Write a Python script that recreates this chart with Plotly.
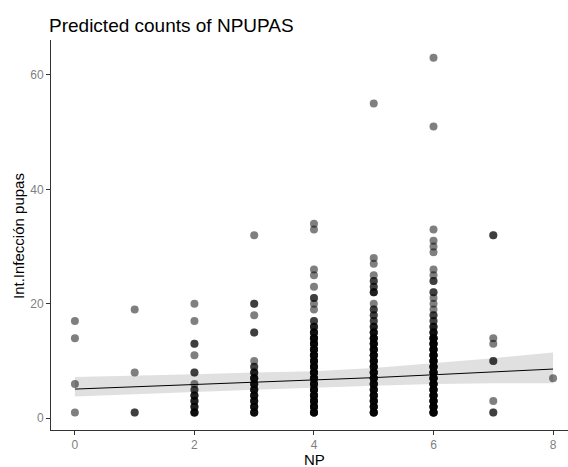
import plotly.graph_objects as go

# Observed data: for each NP level, (value, count) of "Int.Infección pupas"
np_levels = [0, 1, 2, 3, 4, 5, 6, 7, 8]
pupas_np0 = [(1, 1), (6, 1), (14, 1), (17, 1)]
pupas_np1 = [(1, 2), (8, 1), (19, 1)]
pupas_np2 = [(1, 4), (2, 3), (3, 3), (4, 3), (5, 2), (6, 1), (8, 2), (11, 1), (13, 2), (17, 1), (20, 1)]
pupas_np3 = [(1, 4), (2, 4), (3, 4), (4, 4), (5, 4), (6, 4), (7, 4), (8, 3), (9, 2), (10, 1),
             (15, 2), (18, 1), (20, 2), (32, 1)]
pupas_np4 = [(1, 5), (2, 5), (3, 5), (4, 5), (5, 5), (6, 5), (7, 5), (8, 5), (9, 5), (10, 5),
             (11, 5), (12, 5), (13, 5), (14, 5), (15, 4), (16, 3), (17, 2), (19, 1), (20, 1),
             (21, 2), (23, 1), (25, 1), (26, 1), (33, 1), (34, 1)]
pupas_np5 = [(1, 5), (2, 5), (3, 5), (4, 5), (5, 5), (6, 5), (7, 5), (8, 5), (9, 5), (10, 5),
             (11, 5), (12, 5), (13, 5), (14, 5), (15, 4), (16, 3), (17, 2), (18, 2), (19, 2),
             (20, 1), (22, 3), (23, 2), (24, 2), (25, 1), (27, 1), (28, 1), (55, 1)]
pupas_np6 = [(1, 6), (2, 6), (3, 6), (4, 6), (5, 6), (6, 6), (7, 6), (8, 6), (9, 6), (10, 6),
             (11, 6), (12, 6), (13, 6), (14, 6), (15, 4), (16, 3), (17, 2), (18, 2), (19, 1),
             (20, 1), (21, 1), (22, 2), (24, 2), (25, 1), (26, 1), (29, 1), (30, 1), (31, 1),
             (33, 1), (51, 1), (63, 1)]
pupas_np7 = [(1, 2), (3, 1), (10, 2), (13, 1), (14, 1), (32, 2)]
pupas_np8 = [(7, 1)]

# Predicted counts (fit) and 95% CI
fit_x = [0, 1, 2, 3, 4, 5, 6, 7, 8]
fit_y = [5.1, 5.5, 5.8, 6.2, 6.6, 7.1, 7.6, 8.1, 8.6]
fit_lo = [3.8, 4.2, 4.6, 5.0, 5.4, 5.7, 6.0, 6.1, 6.1]
fit_hi = [7.2, 7.4, 7.7, 8.0, 8.2, 8.8, 9.6, 10.5, 11.5]

x_ticks = [0, 2, 4, 6, 8]
y_ticks = [0, 20, 40, 60]

all_cols = [pupas_np0, pupas_np1, pupas_np2, pupas_np3, pupas_np4,
            pupas_np5, pupas_np6, pupas_np7, pupas_np8]
px, py = [], []
for lvl, col in zip(np_levels, all_cols):
    for val, cnt in col:
        for _ in range(cnt):
            px.append(lvl)
            py.append(val)

fig = go.Figure()
fig.add_trace(go.Scatter(x=fit_x + fit_x[::-1], y=fit_hi + fit_lo[::-1], fill="toself",
                         fillcolor="rgba(153,153,153,0.3)", line=dict(width=0),
                         mode="lines", hoverinfo="skip", showlegend=False))
fig.add_trace(go.Scatter(x=fit_x, y=fit_y, mode="lines",
                         line=dict(color="black", width=1), showlegend=False))
fig.add_trace(go.Scatter(x=px, y=py, mode="markers",
                         marker=dict(color="black", opacity=0.5, size=8, line=dict(width=0)),
                         showlegend=False))

axis_common = dict(showgrid=False, zeroline=False, showline=True, linecolor="#333333",
                   linewidth=1, ticks="outside", ticklen=4, tickcolor="#333333",
                   automargin=False,
                   tickfont=dict(family="Liberation Sans, Arial", size=12, color="#7f7f7f"))

L, T, B = 51, 40, 37
PW, PH = 568 - L, 467 - T - B

fig.update_layout(
    width=568, height=467,
    margin=dict(l=L, r=0, t=T, b=B),
    plot_bgcolor="white", paper_bgcolor="white",
    font=dict(family="Liberation Sans, Arial"),
    title=dict(text="Predicted counts of NPUPAS", x=49/568, xanchor="left", y=1 - 25/467,
               yanchor="middle", font=dict(size=19, color="black")),
    xaxis=dict(range=[-0.4, 8.25], tickvals=x_ticks, **axis_common),
    yaxis=dict(range=[-2.05, 66.1], tickvals=y_ticks, **axis_common),
    annotations=[
        dict(text="NP", xref="paper", yref="paper", x=(314 - L) / PW, y=-(459 - 430) / PH,
             xanchor="center", yanchor="middle", showarrow=False,
             font=dict(size=15, color="black")),
        dict(text="Int.Infección pupas", xref="paper", yref="paper", x=(18 - L) / PW,
             y=(430 - 236) / PH, xanchor="center", yanchor="middle", textangle=-90,
             showarrow=False, font=dict(size=15, color="black")),
    ],
)

fig.write_html("out.html", config={"displayModeBar": False},
               post_script="document.body.style.margin='0';document.body.style.overflow='hidden';")
